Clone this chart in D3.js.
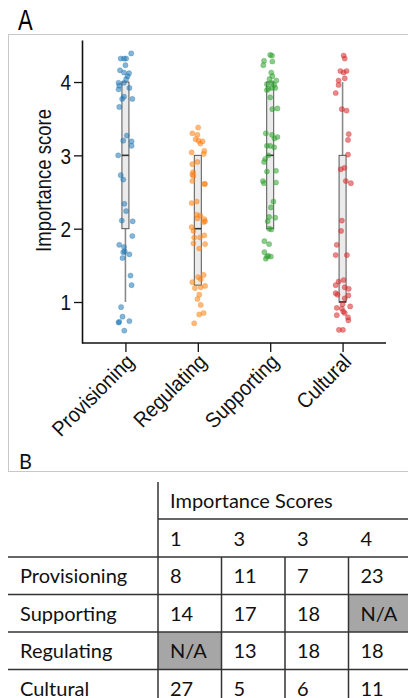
<!DOCTYPE html>
<html>
<head>
<meta charset="utf-8">
<script src="https://cdn.jsdelivr.net/npm/d3@7"></script>
<style>
  body { margin: 0; background: #fff; }
  svg { display: block; }
</style>
</head>
<body>
<div id="figure"></div>
<script>
// categories and colours
var categories = ["Provisioning", "Regulating", "Supporting", "Cultural"];
var catColors = ["#1f77b4", "#ff7f0e", "#2ca02c", "#d62728"];

// box stats [low whisker, q1, median, q3, high whisker]
var boxStats = [
    [1, 2, 3, 4, 4],
    [1.23, 1.23, 2, 3, 3],
    [2, 2, 3, 4, 4],
    [1, 1, 1, 3, 4]
];

// jittered points: score, jitter (in category widths)
var provisioningScores = [4.39, 4.32, 4.32, 4.32, 4.23, 4.16, 4.13, 4.12, 4.08, 4.04, 3.99, 3.99, 3.95, 3.92, 3.90, 3.80, 3.77, 3.77, 3.66, 3.27, 3.20, 3.19, 3.13, 3.00, 2.73, 2.67, 2.34, 2.24, 2.11, 2.10, 1.90, 1.78, 1.75, 1.68, 1.69, 1.65, 1.60, 1.36, 1.23, 0.93, 0.80, 0.72, 0.73, 0.74, 0.61];
var provisioningJitter = [0.08, 0.01, -0.065, -0.02, 0, -0.075, -0.02, 0.05, 0.03, 0.01, -0.095, -0.02, -0.085, 0.055, -0.095, -0.02, -0.045, 0.095, -0.085, 0.02, -0.03, 0.085, 0.085, -0.10, -0.065, -0.03, -0.015, 0.01, -0.05, 0.10, 0.095, -0.085, -0.02, -0.03, -0.01, 0.055, -0.04, 0.07, 0.085, -0.06, -0.04, -0.095, -0.085, 0.055, -0.015];

var regulatingScores = [3.38, 3.30, 3.28, 3.22, 3.20, 3.16, 3.19, 3.04, 3.06, 3.02, 2.91, 2.88, 2.77, 2.74, 2.72, 2.65, 2.61, 2.61, 2.35, 2.37, 2.19, 2.18, 2.14, 2.13, 2.10, 2.09, 2.02, 1.97, 1.88, 1.88, 1.91, 1.80, 1.79, 1.73, 1.37, 1.34, 1.31, 1.27, 1.22, 1.20, 1.19, 1.10, 1.04, 0.96, 0.83, 0.85, 0.71];
var regulatingJitter = [0.005, -0.075, -0.005, -0.03, 0.01, 0.035, 0.065, -0.085, 0.09, 0.08, -0.005, -0.075, -0.065, -0.075, -0.06, -0.075, 0.09, 0.10, -0.085, -0.015, -0.015, 0.035, -0.005, 0.09, 0.10, 0.08, -0.085, -0.06, -0.05, 0.03, 0.09, -0.06, 0.10, 0.02, 0.08, 0.005, 0.04, -0.075, 0.10, 0.04, -0.04, 0.02, -0.005, 0.04, 0.02, 0.08, -0.05];

var supportingScores = [4.37, 4.36, 4.29, 4.28, 4.23, 4.13, 4.08, 4.04, 4.02, 3.97, 3.99, 3.96, 3.92, 3.92, 3.91, 3.89, 3.79, 3.63, 3.64, 3.30, 3.28, 3.23, 3.25, 3.13, 3.13, 3.11, 3.00, 2.95, 2.91, 2.78, 2.79, 2.65, 2.62, 2.63, 2.37, 2.29, 2.16, 2.15, 2.10, 2.00, 1.99, 1.83, 1.79, 1.68, 1.63, 1.62, 1.62, 1.59];
var supportingJitter = [0, 0.025, -0.085, 0.03, -0.095, 0.015, 0.03, -0.01, 0.085, -0.045, 0.015, 0.055, 0.07, 0.025, -0.025, -0.045, 0, 0.03, 0.10, -0.06, 0.025, 0.06, 0.10, -0.045, 0, 0.055, -0.025, -0.07, -0.085, -0.045, 0.08, -0.10, -0.085, 0.08, 0.045, 0.01, -0.015, 0.07, -0.035, -0.015, 0.015, -0.08, -0.015, -0.08, -0.025, 0.01, -0.045, -0.06];

var culturalScores = [4.36, 4.32, 4.15, 4.13, 4.15, 4.02, 4.05, 3.96, 3.85, 3.63, 3.61, 3.29, 3.21, 3.01, 2.81, 2.83, 2.65, 2.62, 2.11, 1.97, 1.78, 1.64, 1.64, 1.28, 1.30, 1.23, 1.20, 1.18, 1.12, 1.10, 1.09, 1.05, 0.97, 0.92, 0.91, 0.94, 0.87, 0.85, 0.82, 0.79, 0.75, 0.62, 0.62];
var culturalJitter = [0.015, 0.03, -0.03, 0.015, 0.055, -0.055, 0.03, -0.055, -0.095, -0.01, 0.055, 0.085, 0.075, 0.075, -0.025, 0.025, 0.045, 0.115, -0.01, -0.02, -0.08, 0.06, -0.095, -0.055, 0.015, -0.095, 0.03, 0.085, -0.095, -0.07, 0.08, 0.03, 0, -0.08, -0.01, 0.105, 0.01, 0.03, -0.08, 0.075, 0.08, -0.05, 0.005];

var yTicks = [1, 2, 3, 4];

// table B
var tableTitle = "Importance Scores";
var scoreLabels = ["1", "3", "3", "4"];
var rowLabels = ["Provisioning", "Supporting", "Regulating", "Cultural"];
var tableValues = [
    [8, 11, 7, 23],
    [14, 17, 18, "N/A"],
    ["N/A", 13, 18, 18],
    [27, 5, 6, 11]
];

var allScores = [provisioningScores, regulatingScores, supportingScores, culturalScores];
var allJitter = [provisioningJitter, regulatingJitter, supportingJitter, culturalJitter];

var W = 408, H = 698;
var svg = d3.select("#figure").append("svg")
    .attr("width", W)
    .attr("height", H);

var plotFont = "Liberation Sans, Arial, sans-serif";
var tableFont = "Lato, Open Sans, sans-serif";

// panel A frame
svg.append("rect")
    .attr("x", 8.5).attr("y", 34.5)
    .attr("width", 420).attr("height", 437)
    .style("fill", "none")
    .style("stroke", "#c8c8c8");

svg.append("text")
    .attr("transform", "translate(18,30) scale(1,1.3)")
    .style("font-family", plotFont)
    .style("font-size", "22px")
    .text("A");

// scales
var x = d3.scalePoint().domain(categories).range([82, 386]).padding(0.6);
var y = d3.scaleLinear().domain([0.441, 4.573]).range([343, 40]);

// y axis
var yAxis = svg.append("g")
    .attr("transform", "translate(82,0)")
    .call(d3.axisLeft(y).tickValues(yTicks).tickFormat(d3.format("d"))
        .tickSize(8).tickSizeOuter(0).tickPadding(3));
yAxis.select(".domain").style("stroke", "#111").style("stroke-width", 1.6);
yAxis.selectAll(".tick line").style("stroke", "#111").style("stroke-width", 1.3);
yAxis.selectAll(".tick text")
    .style("font-family", plotFont)
    .style("font-size", "19px")
    .style("fill", "#111")
    .attr("transform", "scale(1,1.2)")
    .attr("dy", "0.34em");

svg.append("text")
    .attr("transform", "translate(51," + ((40 + 343) / 2 - 11) + ") rotate(-90) scale(1,1.15)")
    .attr("text-anchor", "middle")
    .style("font-family", plotFont)
    .style("font-size", "18.5px")
    .style("fill", "#111")
    .text("Importance score");

// x axis
var xAxis = svg.append("g")
    .attr("transform", "translate(0,343)")
    .call(d3.axisBottom(x).tickSize(9).tickSizeOuter(0).tickFormat(""));
xAxis.select(".domain")
    .attr("d", "M82,0H386")
    .style("stroke", "#111").style("stroke-width", 1.6);
xAxis.selectAll(".tick line").style("stroke", "#111").style("stroke-width", 1.3);

svg.selectAll(".x-label")
    .data(categories)
    .enter().append("text")
    .attr("class", "x-label")
    .attr("text-anchor", "end")
    .attr("transform", function(d) {
        return "translate(" + (x(d) + 10) + ",363) rotate(-45) scale(1.05,1.15)";
    })
    .style("font-family", plotFont)
    .style("font-size", "18.5px")
    .style("fill", "#111")
    .text(function(d) { return d; });

// boxes
var boxW = 7;
var boxes = svg.selectAll(".box")
    .data(boxStats)
    .enter().append("g")
    .attr("class", "box");

boxes.append("line")
    .attr("x1", function(d, i) { return x(categories[i]); })
    .attr("x2", function(d, i) { return x(categories[i]); })
    .attr("y1", function(d) { return y(d[0]); })
    .attr("y2", function(d) { return y(d[4]); })
    .style("stroke", "#8a8a8a")
    .style("stroke-width", 1.6);

boxes.append("rect")
    .attr("x", function(d, i) { return x(categories[i]) - boxW / 2; })
    .attr("y", function(d) { return y(d[3]); })
    .attr("width", boxW)
    .attr("height", function(d) { return y(d[1]) - y(d[3]); })
    .style("fill", "#ebebeb")
    .style("stroke", "#555")
    .style("stroke-width", 1);

boxes.append("line")
    .attr("x1", function(d, i) { return x(categories[i]) - boxW / 2; })
    .attr("x2", function(d, i) { return x(categories[i]) + boxW / 2; })
    .attr("y1", function(d) { return y(d[2]); })
    .attr("y2", function(d) { return y(d[2]); })
    .style("stroke", "#333")
    .style("stroke-width", 1.6);

// points
categories.forEach(function(cat, ci) {
    var pts = allScores[ci].map(function(s, k) {
        return { score: s, jitter: allJitter[ci][k] };
    });
    svg.append("g")
        .selectAll("circle")
        .data(pts)
        .enter().append("circle")
        .attr("cx", function(d) { return x(cat) + d.jitter * x.step(); })
        .attr("cy", function(d) { return y(d.score); })
        .attr("r", 2.6)
        .style("fill", catColors[ci])
        .style("fill-opacity", 0.55)
        .style("stroke", catColors[ci])
        .style("stroke-opacity", 0.35)
        .style("stroke-width", 0.8);
});

// panel B label
svg.append("text")
    .attr("transform", "translate(19,469) scale(1,1.05)")
    .style("font-family", tableFont)
    .style("font-size", "20px")
    .style("fill", "#111")
    .text("B");

// table
var col = d3.scaleBand().domain(d3.range(4)).range([158, 412]);
var row = d3.scaleBand().domain(d3.range(4)).range([557, 707]);
var lineColor = "#333";
var table = svg.append("g").attr("class", "table");

// grey N/A cells
tableValues.forEach(function(r, ri) {
    r.forEach(function(v, ci) {
        if (v === "N/A") {
            table.append("rect")
                .attr("x", col(ci))
                .attr("y", row(ri))
                .attr("width", col.bandwidth())
                .attr("height", row.bandwidth())
                .style("fill", "#a6a6a6");
        }
    });
});

// horizontal rules
table.append("line")
    .attr("x1", 158).attr("x2", 408).attr("y1", 519).attr("y2", 519)
    .style("stroke", lineColor).style("stroke-width", 1.5);
table.selectAll(".hrule")
    .data(d3.range(4))
    .enter().append("line")
    .attr("class", "hrule")
    .attr("x1", 8).attr("x2", 408)
    .attr("y1", function(d) { return row(d); })
    .attr("y2", function(d) { return row(d); })
    .style("stroke", lineColor).style("stroke-width", 1.5);

// vertical rules
table.append("line")
    .attr("x1", 158).attr("x2", 158).attr("y1", 482).attr("y2", 698)
    .style("stroke", lineColor).style("stroke-width", 1.5);
table.selectAll(".vrule")
    .data([1, 2, 3])
    .enter().append("line")
    .attr("class", "vrule")
    .attr("x1", function(d) { return col(d); })
    .attr("x2", function(d) { return col(d); })
    .attr("y1", row(0)).attr("y2", 698)
    .style("stroke", lineColor).style("stroke-width", 1.5);

function tableText(g, xPos, yPos, str) {
    g.append("text")
        .attr("x", xPos).attr("y", yPos)
        .style("font-family", tableFont)
        .style("font-size", "20px")
        .style("fill", "#111")
        .text(str);
}

tableText(table, 170, 508, tableTitle);
scoreLabels.forEach(function(s, i) { tableText(table, col(i) + 12, 546, s); });
rowLabels.forEach(function(s, i) {
    tableText(table, 20, row(i) + 26, s);
    tableValues[i].forEach(function(v, ci) {
        tableText(table, col(ci) + 12, row(i) + 26, v);
    });
});
</script>
</body>
</html>
